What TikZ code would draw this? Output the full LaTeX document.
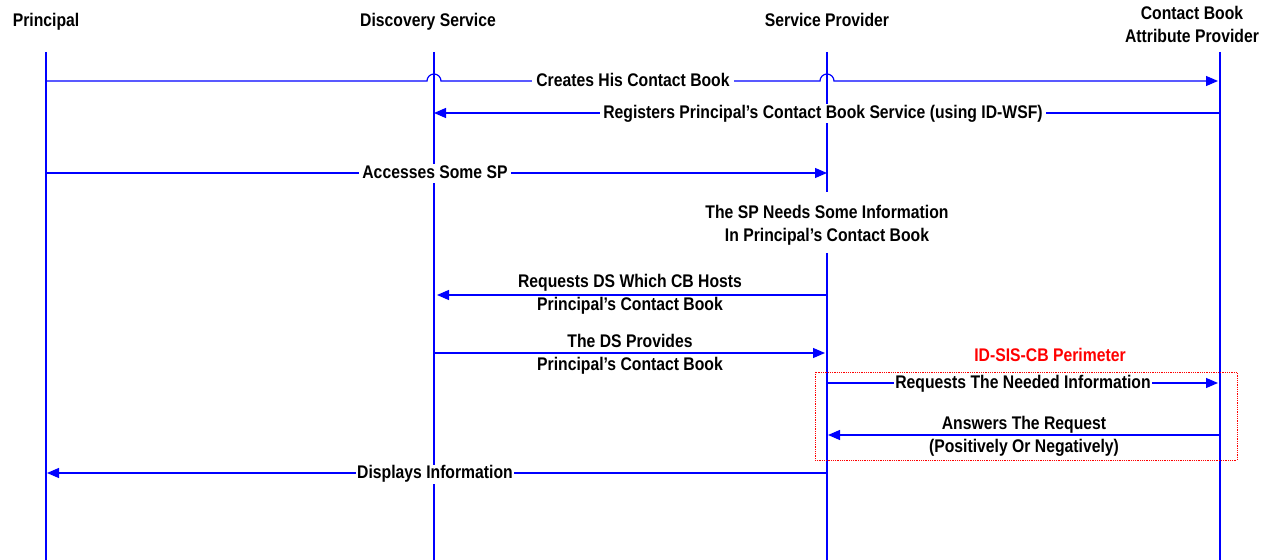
\documentclass[tikz,border=0pt]{standalone}
\usepackage{fontspec}
\setmainfont[FakeStretch=0.86]{Liberation Sans}
\usetikzlibrary{arrows.meta}
\definecolor{lblue}{RGB}{0,0,255}
\definecolor{lred}{RGB}{255,0,0}
\tikzset{
  lifeline/.style={draw=lblue,line width=2.2bp},
  msg/.style={draw=lblue,line width=1.2bp,-{Triangle[length=12bp,width=10bp]}},
  lbl/.style={font=\fontsize{18.3bp}{23bp}\selectfont\bfseries,inner sep=0bp,align=center,text=black},
  onlbl/.style={lbl,fill=white,inner xsep=3bp,inner ysep=1bp,text height=13bp,text depth=4bp},
  hdr/.style={lbl,text height=13bp,text depth=4bp},
}
\begin{document}
\begin{tikzpicture}[x=1bp,y=1bp]
\useasboundingbox (0,0) rectangle (1267,-560);
% headers
\node[hdr] (hP) at (46,-22) {Principal};
\node[hdr] (hD) at (428,-22) {Discovery Service};
\node[hdr] (hS) at (827,-22) {Service Provider};
\node[lbl] (hC) at (1192,-24) {Contact Book\\Attribute Provider};
% lifeline ends
\coordinate (Ptop) at (46,-52);  \coordinate (Pbot) at (46,-560);
\coordinate (Dtop) at (434,-52); \coordinate (Dbot) at (434,-560);
\coordinate (Stop) at (827,-52); \coordinate (Sbot) at (827,-560);
\coordinate (Ctop) at (1220,-52);\coordinate (Cbot) at (1220,-560);
\draw[lifeline] (Ptop) -- (Pbot);
\draw[lifeline] (Dtop) -- (Dbot);
\draw[lifeline] (Ctop) -- (Cbot);
% SP lifeline with note gap
\node[lbl,inner ysep=6bp] (note) at (827,-225.5) {The SP Needs Some Information\\In Principal’s Contact Book};
\coordinate (Sg1) at (827,-192); \coordinate (Sg2) at (827,-253);
\draw[lifeline] (Stop) -- (Sg1);
\draw[lifeline] (Sg2) -- (Sbot);
% perimeter box
\node[lbl,text=lred] (perim) at (1050,-355) {ID-SIS-CB Perimeter};
\coordinate (bx1) at (815,-372); \coordinate (bx2) at (1237,-460);
\draw[lred,densely dotted,line width=0.8bp] (bx1) rectangle (bx2);
% message 1 with jumps over the lifelines
\coordinate (m1a) at (46,-81);
\coordinate (m1j1) at (427,-81);
\coordinate (m1j2) at (820,-81);
\coordinate (m1b) at (1218,-81);
\draw[msg] (m1a) -- (m1j1) arc (180:0:7) -- (m1j2) arc (180:0:7) -- (m1b);
\node[onlbl,inner xsep=4bp] (l1) at (633,-82) {Creates His Contact Book};
% message 2
\coordinate (m2a) at (1220,-113); \coordinate (m2b) at (434,-113);
\draw[msg] (m2a) -- (m2b);
\node[onlbl] (l2) at (823,-114) {Registers Principal’s Contact Book Service (using ID-WSF)};
% message 3
\coordinate (m3a) at (46,-173); \coordinate (m3b) at (827,-173);
\draw[msg] (m3a) -- (m3b);
\node[onlbl] (l3) at (435,-174) {Accesses Some SP};
% message 5
\coordinate (m5a) at (827,-295); \coordinate (m5b) at (437,-295);
\draw[msg] (m5a) -- (m5b);
\node[hdr] (l5a) at (630,-283) {Requests DS Which CB Hosts};
\node[hdr] (l5b) at (630,-306) {Principal’s Contact Book};
% message 6
\coordinate (m6a) at (435,-353); \coordinate (m6b) at (825,-353);
\draw[msg] (m6a) -- (m6b);
\node[hdr] (l6a) at (630,-343) {The DS Provides};
\node[hdr] (l6b) at (630,-366) {Principal’s Contact Book};
% message 9
\coordinate (m9a) at (827,-383); \coordinate (m9b) at (1218,-383);
\draw[msg] (m9a) -- (m9b);
\node[onlbl,inner xsep=1bp] (l9) at (1023,-384) {Requests The Needed Information};
% message 10
\coordinate (m10a) at (1220,-435); \coordinate (m10b) at (828,-435);
\draw[msg] (m10a) -- (m10b);
\node[hdr] (l10a) at (1024,-425) {Answers The Request};
\node[hdr] (l10b) at (1024,-448) {(Positively Or Negatively)};
% message 11
\coordinate (m11a) at (827,-473); \coordinate (m11b) at (47,-473);
\draw[msg] (m11a) -- (m11b);
\node[onlbl,inner xsep=1bp] (l11) at (435,-474) {Displays Information};
\end{tikzpicture}
\end{document}
